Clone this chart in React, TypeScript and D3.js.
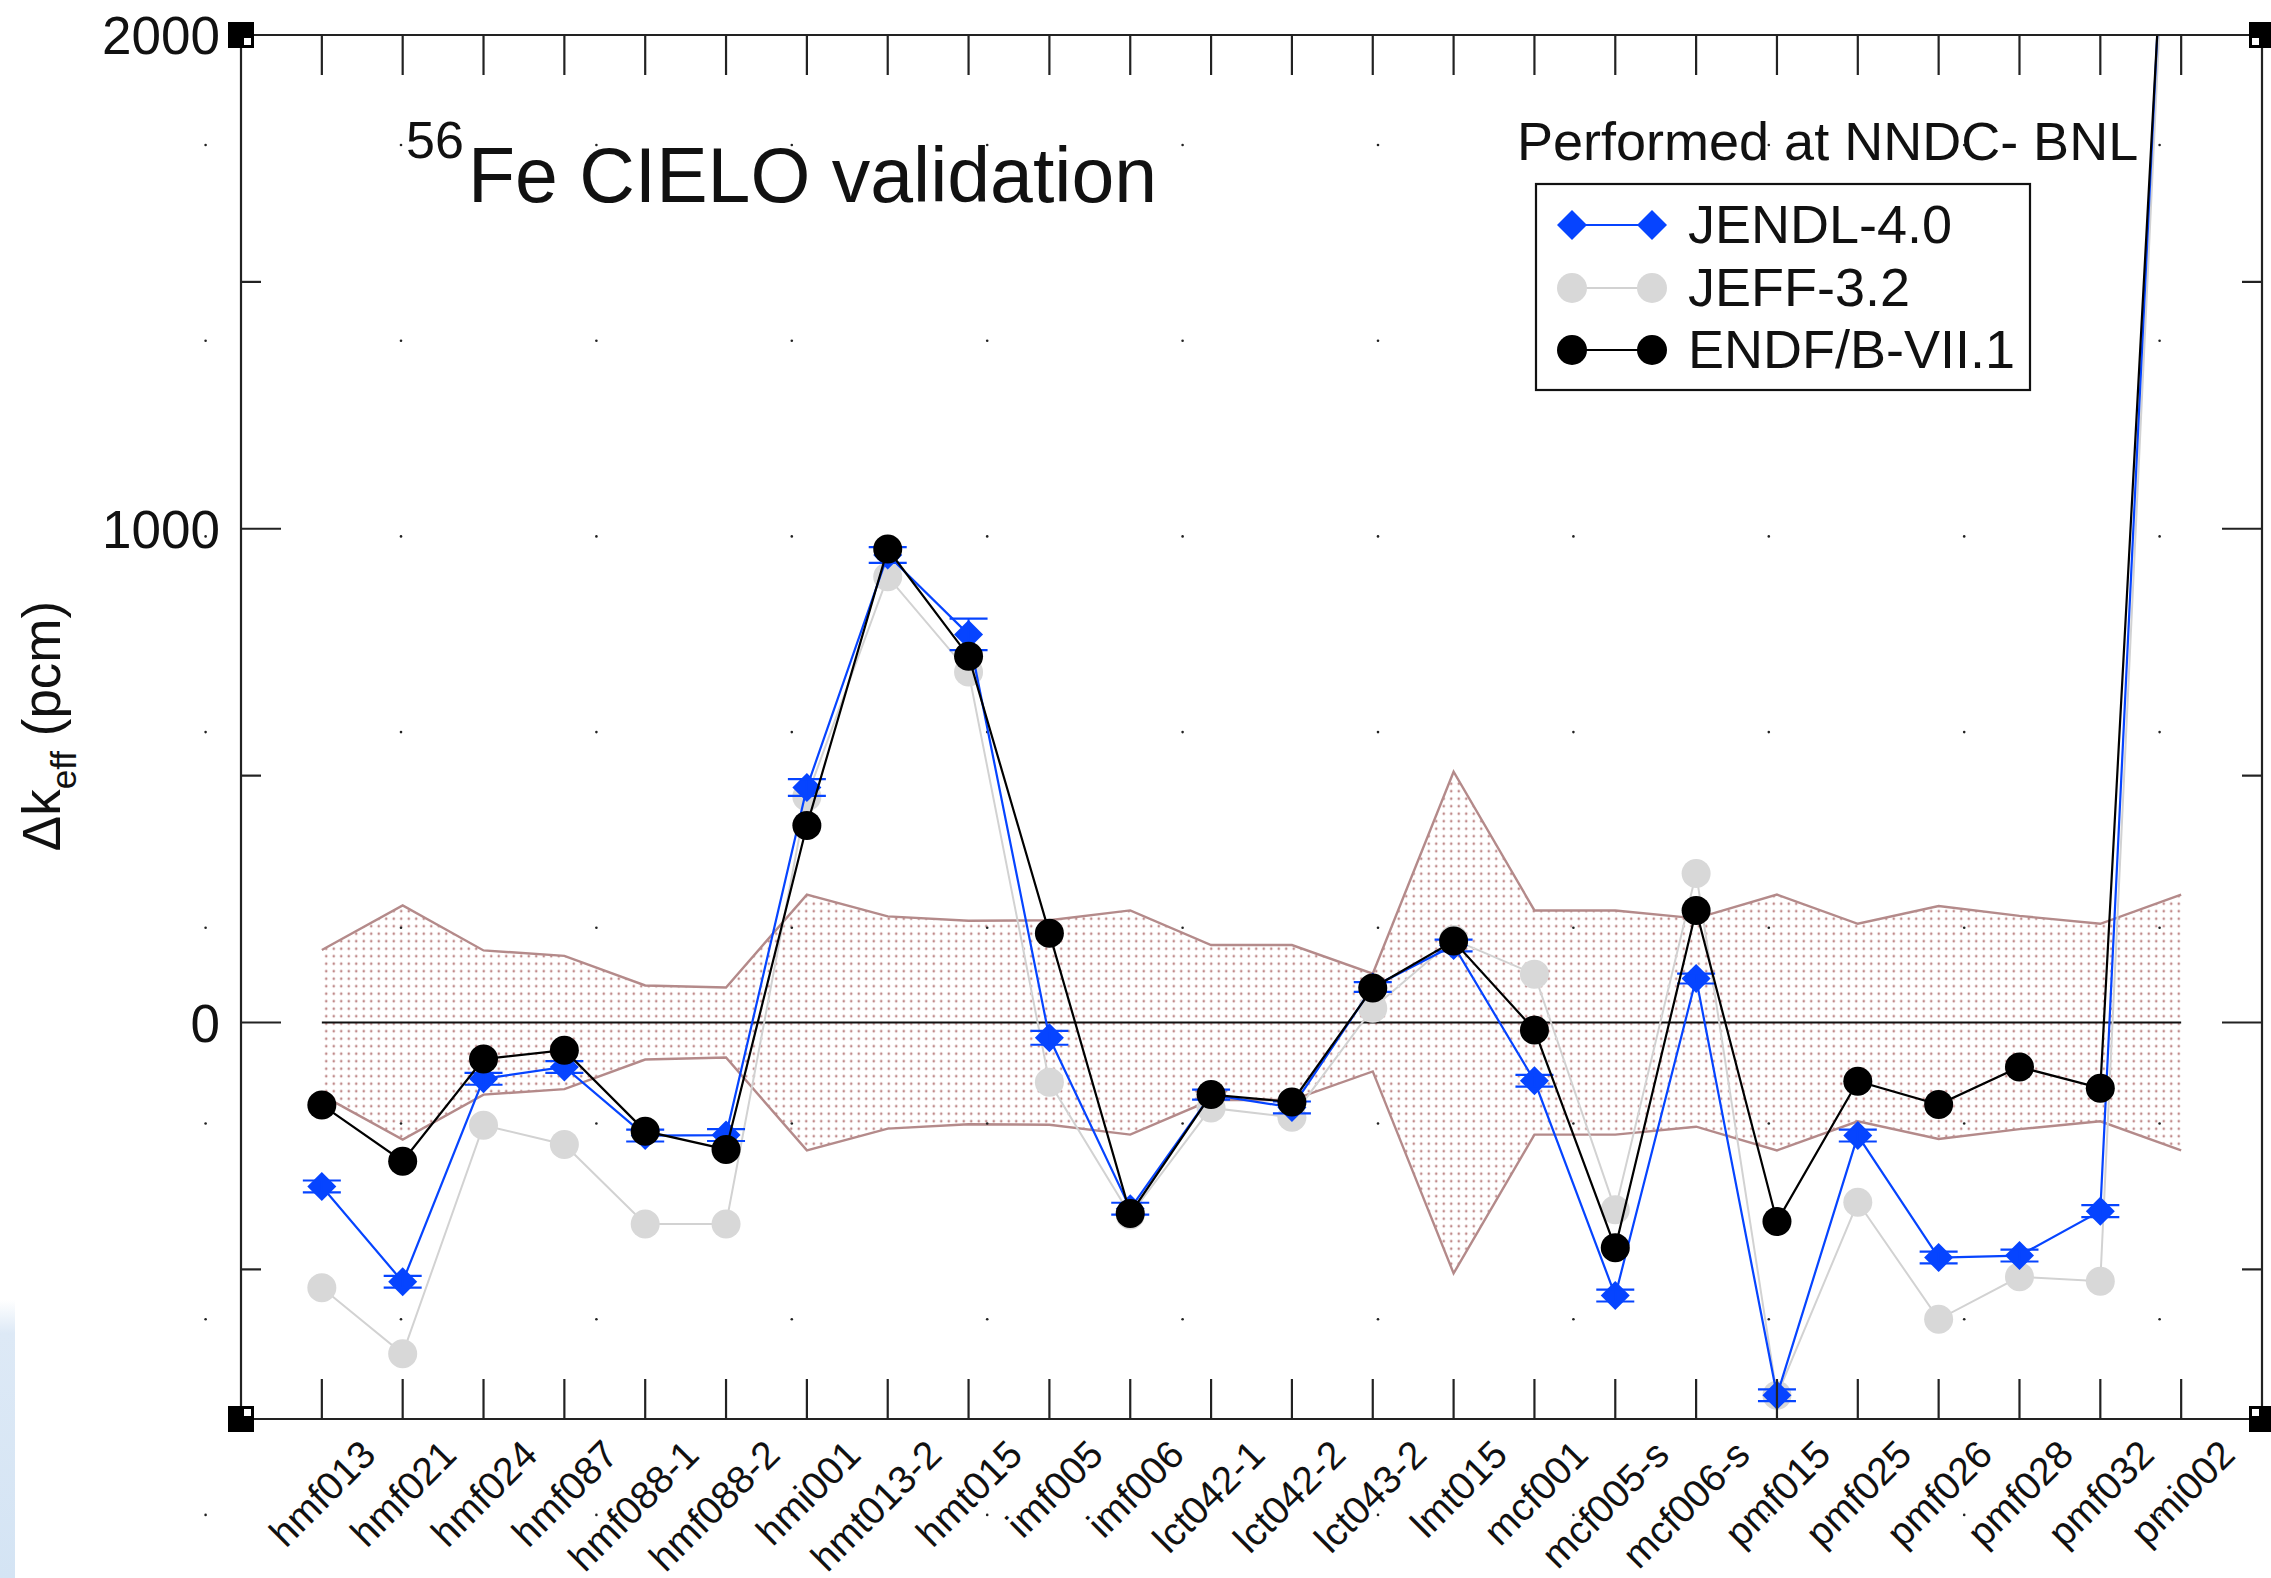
import React from 'react';
import * as d3 from 'd3';

const categories = [
  'hmf013', 'hmf021', 'hmf024', 'hmf087', 'hmf088-1', 'hmf088-2', 'hmi001', 'hmt013-2',
  'hmt015', 'imf005', 'imf006', 'lct042-1', 'lct042-2', 'lct043-2', 'lmt015', 'mcf001',
  'mcf005-s', 'mcf006-s', 'pmf015', 'pmf025', 'pmf026', 'pmf028', 'pmf032', 'pmi002',
];
const endf = [-167, -281, -74, -56, -220, -257, 399, 959, 742, 181, -387, -146, -161, 70, 165, -15, -456, 227, -403, -119, -166, -90, -133, 2900];
const jendl = [-332, -525, -114, -90, -229, -228, 476, 947, 786, -31, -377, -146, -172, 72, 156, -118, -553, 89, -755, -229, -476, -472, -382, 3000];
const jendlErr = [12, 12, 12, 12, 12, 12, 17, 16, 32, 14, 12, 10, 12, 10, 12, 12, 12, 10, 12, 12, 12, 12, 12, 12];
const jeff = [-537, -671, -208, -247, -408, -408, 457, 903, 710, -121, -390, -173, -192, 29, 168, 98, -379, 302, -755, -364, -601, -515, -524, 2950];
const expUnc = [147, 237, 146, 135, 75, 71, 259, 215, 206, 207, 227, 157, 157, 99, 508, 227, 227, 211, 259, 200, 236, 216, 200, 259];

const yMajorTicks = [0, 1000];
const yMinorTicks = [-500, 500, 1500];
const yTickLabels = [0, 1000, 2000];

const seriesNames = ['JENDL-4.0', 'JEFF-3.2', 'ENDF/B-VII.1'];

const W = 2271;
const H = 1578;
const X0 = 241;
const X1 = 2262;
const Y0 = 35;
const Y1 = 1419;

const FONT = '"Liberation Sans", Arial, Helvetica, sans-serif';
const BLUE = '#0644ff';
const GREY = '#d8d8d8';
const GREY_LINE = '#d2d2d2';
const BAND_LINE = '#b48a8a';

export default function App() {
  const x = d3.scaleLinear().domain([-1, categories.length]).range([X0, X1]);
  const y = d3.scaleLinear().domain([-803, 2000]).range([Y1, Y0]);

  const lineGen = d3
    .line<number>()
    .x((_, i) => x(i))
    .y((v) => y(v));
  const bandArea = d3
    .area<number>()
    .x((_, i) => x(i))
    .y0((u) => y(-u))
    .y1((u) => y(u));
  const upperPath = lineGen(expUnc);
  const lowerPath = lineGen(expUnc.map((u) => -u));

  const dotXs = d3.range(11).map((k) => 205.6 + 195.4 * k);
  const dotYs = d3.range(8).map((k) => 145 + 195.7 * k);

  const diamond = (cx: number, cy: number, r: number) =>
    `M${cx},${cy - r}L${cx + r},${cy}L${cx},${cy + r}L${cx - r},${cy}Z`;

  const corners = [
    { cx: X0, cy: Y0, sx: 1, sy: 1 },
    { cx: X1, cy: Y0, sx: -1, sy: 1 },
    { cx: X0, cy: Y1, sx: 1, sy: -1 },
    { cx: X1, cy: Y1, sx: -1, sy: -1 },
  ];

  const legendRows = [225, 288, 350];
  const legX1 = 1572;
  const legX2 = 1652;

  return (
    <div>
      <style>{'body{margin:0;background:#fff}'}</style>
      <svg width={W} height={H} viewBox={`0 0 ${W} ${H}`} style={{ display: 'block' }} fontFamily={FONT}>
        <defs>
          <pattern id="bandDots" patternUnits="userSpaceOnUse" width={7.5} height={7.5}>
            <circle cx={3.75} cy={3.75} r={1.3} fill="#c08a8a" />
          </pattern>
          <clipPath id="plotClip">
            <rect x={X0} y={Y0} width={X1 - X0} height={Y1 - Y0} />
          </clipPath>
          <linearGradient id="edgeGrad" x1="0" y1="0" x2="0" y2="1">
            <stop offset="0" stopColor="#dde9f6" stopOpacity={0} />
            <stop offset="0.12" stopColor="#dde9f6" stopOpacity={1} />
            <stop offset="1" stopColor="#d4e4f4" stopOpacity={1} />
          </linearGradient>
        </defs>

        <rect x={0} y={0} width={W} height={H} fill="#fff" />
        <rect x={0} y={1300} width={15} height={H - 1300} fill="url(#edgeGrad)" />

        {/* experimental uncertainty band */}
        <path d={bandArea(expUnc) || ''} fill="url(#bandDots)" stroke="none" />
        <path d={upperPath || ''} fill="none" stroke={BAND_LINE} strokeWidth={2.4} />
        <path d={lowerPath || ''} fill="none" stroke={BAND_LINE} strokeWidth={2.4} />

        {/* background dot grid */}
        {dotYs.map((dy) =>
          dotXs.map((dx) => <circle key={`d${dx}-${dy}`} cx={dx} cy={dy} r={1.3} fill="#222" />)
        )}

        {/* zero line */}
        <line x1={x(0)} x2={x(categories.length - 1)} y1={y(0)} y2={y(0)} stroke="#111" strokeWidth={2.2} />

        <g clipPath="url(#plotClip)">
          {/* JEFF-3.2 */}
          <path d={lineGen(jeff) || ''} fill="none" stroke={GREY_LINE} strokeWidth={2} />
          {jeff.map((v, i) => (
            <circle key={`g${i}`} cx={x(i)} cy={y(v)} r={14.5} fill={GREY} />
          ))}

          {/* JENDL-4.0 */}
          <path d={lineGen(jendl) || ''} fill="none" stroke={BLUE} strokeWidth={2.2} />
          {jendl.map((v, i) => {
            const cx = x(i);
            const e = jendlErr[i];
            return (
              <g key={`b${i}`}>
                <path d={diamond(cx, y(v), 14.5)} fill={BLUE} />
                <line x1={cx} x2={cx} y1={y(v - e)} y2={y(v + e)} stroke={BLUE} strokeWidth={2} />
                <line x1={cx - 19} x2={cx + 19} y1={y(v + e)} y2={y(v + e)} stroke={BLUE} strokeWidth={2.2} />
                <line x1={cx - 19} x2={cx + 19} y1={y(v - e)} y2={y(v - e)} stroke={BLUE} strokeWidth={2.2} />
              </g>
            );
          })}

          {/* ENDF/B-VII.1 */}
          <path d={lineGen(endf) || ''} fill="none" stroke="#000" strokeWidth={2.2} />
          {endf.map((v, i) => (
            <circle key={`k${i}`} cx={x(i)} cy={y(v)} r={14.5} fill="#000" />
          ))}
        </g>

        {/* frame */}
        <g stroke="#222" strokeWidth={2.2} fill="none">
          <line x1={X0} x2={X1} y1={Y0} y2={Y0} />
          <line x1={X0} x2={X1} y1={Y1} y2={Y1} />
          <line x1={X0} x2={X0} y1={Y0} y2={Y1} />
          <line x1={X1} x2={X1} y1={Y0} y2={Y1} />
          {categories.map((c, i) => (
            <g key={`t${c}`}>
              <line x1={x(i)} x2={x(i)} y1={Y1} y2={Y1 - 40} />
              <line x1={x(i)} x2={x(i)} y1={Y0} y2={Y0 + 40} />
            </g>
          ))}
          {yMajorTicks.map((t) => (
            <g key={`ym${t}`}>
              <line x1={X0} x2={X0 + 40} y1={y(t)} y2={y(t)} />
              <line x1={X1} x2={X1 - 40} y1={y(t)} y2={y(t)} />
            </g>
          ))}
          {yMinorTicks.map((t) => (
            <g key={`yn${t}`}>
              <line x1={X0} x2={X0 + 20} y1={y(t)} y2={y(t)} />
              <line x1={X1} x2={X1 - 20} y1={y(t)} y2={y(t)} />
            </g>
          ))}
        </g>

        {/* corner marks */}
        {corners.map((c, i) => (
          <g key={`c${i}`}>
            <rect x={c.cx - 13} y={c.cy - 13} width={26} height={26} fill="#000" />
            <rect
              x={c.sx > 0 ? c.cx + 3 : c.cx - 10}
              y={c.sy > 0 ? c.cy + 3 : c.cy - 10}
              width={7}
              height={7}
              fill="#fff"
            />
          </g>
        ))}

        {/* y tick labels */}
        {yTickLabels.map((t) => (
          <text key={`yl${t}`} x={220} y={y(t) + 19} fontSize={53} textAnchor="end" fill="#111">
            {t}
          </text>
        ))}

        {/* x tick labels */}
        {categories.map((c, i) => (
          <text
            key={`xl${c}`}
            transform={`translate(${x(i) + 56},${1457}) rotate(-45)`}
            fontSize={39}
            textAnchor="end"
            fill="#111"
          >
            {c}
          </text>
        ))}

        {/* y axis title */}
        <text transform="translate(60,726) rotate(-90)" fontSize={53} textAnchor="middle" fill="#111">
          Δk
          <tspan fontSize={35} dy={16}>eff</tspan>
          <tspan dy={-16}> (pcm)</tspan>
        </text>

        {/* title */}
        <text x={406} y={158} fontSize={52} fill="#111">56</text>
        <text x={468} y={202} fontSize={77} fill="#111">Fe CIELO validation</text>

        <text x={1517} y={160} fontSize={54} fill="#111">Performed at NNDC- BNL</text>

        {/* legend */}
        <rect x={1536} y={184} width={494} height={206} fill="#fff" stroke="#111" strokeWidth={2.2} />
        <line x1={legX1} x2={legX2} y1={legendRows[0]} y2={legendRows[0]} stroke={BLUE} strokeWidth={2.2} />
        <path d={diamond(legX1, legendRows[0], 15)} fill={BLUE} />
        <path d={diamond(legX2, legendRows[0], 15)} fill={BLUE} />
        <line x1={legX1} x2={legX2} y1={legendRows[1]} y2={legendRows[1]} stroke={GREY_LINE} strokeWidth={2} />
        <circle cx={legX1} cy={legendRows[1]} r={15} fill={GREY} />
        <circle cx={legX2} cy={legendRows[1]} r={15} fill={GREY} />
        <line x1={legX1} x2={legX2} y1={legendRows[2]} y2={legendRows[2]} stroke="#000" strokeWidth={2.2} />
        <circle cx={legX1} cy={legendRows[2]} r={15} fill="#000" />
        <circle cx={legX2} cy={legendRows[2]} r={15} fill="#000" />
        {seriesNames.map((n, i) => (
          <text key={n} x={1688} y={legendRows[i] + 18} fontSize={54} fill="#111">
            {n}
          </text>
        ))}
      </svg>
    </div>
  );
}
